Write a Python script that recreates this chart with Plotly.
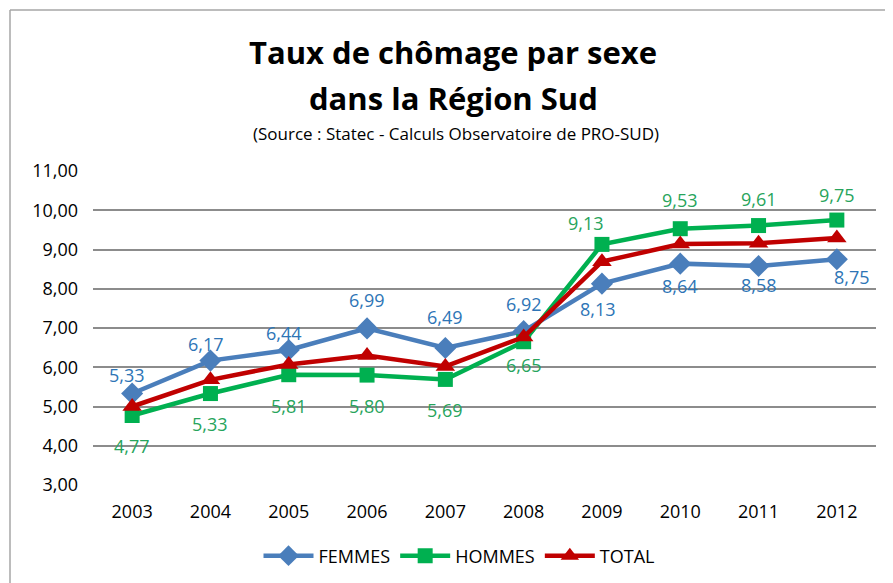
import plotly.graph_objects as go

years = [2003, 2004, 2005, 2006, 2007, 2008, 2009, 2010, 2011, 2012]
femmes = [5.33, 6.17, 6.44, 6.99, 6.49, 6.92, 8.13, 8.64, 8.58, 8.75]
hommes = [4.77, 5.33, 5.81, 5.80, 5.69, 6.65, 9.13, 9.53, 9.61, 9.75]
total = [5.00, 5.68, 6.07, 6.30, 6.02, 6.77, 8.69, 9.14, 9.16, 9.29]
yticks = [3, 4, 5, 6, 7, 8, 9, 10, 11]

def fmt(v):
    return f"{v:.2f}".replace(".", ",")

FONT = "Open Sans"
c_f, c_h, c_t = "#4a7ebb", "#00b050", "#c00000"
t_f, t_h = "#2e75b6", "#27a45c"

# label offsets from their marker, in pixels (positive yshift = up)
shift_f = [(-5, 19), (-4, 17), (-5, 17), (0, 28), (0, 31), (0, 27), (-4, -25), (0, -22), (0, -19), (15, -18)]
shift_h = [(0, -30), (0, -30), (0, -31), (0, -31), (0, -31), (0, -23), (-16, 21), (0, 29), (0, 27), (0, 25)]

fig = go.Figure()
fig.add_trace(go.Scatter(
    x=years, y=femmes, name="FEMMES", mode="lines+markers",
    line=dict(color=c_f, width=4.5), marker=dict(symbol="diamond", size=17, color=c_f)))
fig.add_trace(go.Scatter(
    x=years, y=hommes, name="HOMMES", mode="lines+markers",
    line=dict(color=c_h, width=4.5), marker=dict(symbol="square", size=15, color=c_h)))
fig.add_trace(go.Scatter(
    x=years, y=total, name="TOTAL", mode="lines+markers",
    line=dict(color=c_t, width=4.5), marker=dict(symbol="triangle-up", size=17, color=c_t)))

for yr, v, (dx, dy) in zip(years, femmes, shift_f):
    fig.add_annotation(x=yr, y=v, xref="x", yref="y", text=fmt(v), showarrow=False,
                       xshift=dx, yshift=dy, xanchor="center", yanchor="middle",
                       font=dict(family=FONT, size=18, color=t_f))
for yr, v, (dx, dy) in zip(years, hommes, shift_h):
    fig.add_annotation(x=yr, y=v, xref="x", yref="y", text=fmt(v), showarrow=False,
                       xshift=dx, yshift=dy, xanchor="center", yanchor="middle",
                       font=dict(family=FONT, size=18, color=t_h))

# page has an 8px body margin; express layout in reference pixels and shift
OFF = 8
L, R, T, B = 93 - OFF, 876 - OFF, 171 - OFF, 485 - OFF
W, H = 893 - OFF, 583 - OFF

def py(pix):
    return (B - (pix - OFF)) / (B - T)
def px(pix):
    return ((pix - OFF) - L) / (R - L)

fig.update_layout(
    width=W, height=H,
    paper_bgcolor="white", plot_bgcolor="white",
    margin=dict(l=L, r=W - R, t=T, b=H - B, autoexpand=False),
    font=dict(family=FONT, color="#000000", size=18),
    showlegend=True,
    legend=dict(orientation="h", x=px(459), xanchor="center", y=py(556), yanchor="middle",
                font=dict(family=FONT, size=18, color="#000"), itemwidth=50),
    xaxis=dict(range=[years[0] - 0.5, years[-1] + 0.5], tickvals=years,
               ticktext=[str(y) for y in years],
               showgrid=False, zeroline=False, showline=False, automargin=False,
               ticks="", ticklabelstandoff=14, tickfont=dict(family=FONT, size=18, color="#000")),
    yaxis=dict(range=[3, 11], tickvals=yticks, ticktext=[fmt(v) for v in yticks], automargin=False,
               showgrid=True, gridcolor="#8c8c8c", gridwidth=1.5, zeroline=False,
               showline=False, ticks="", ticklen=0, ticklabelstandoff=14,
               tickfont=dict(family=FONT, size=18, color="#000")),
)

fig.add_annotation(text="<b>Taux de chômage par sexe</b>", x=px(453), y=py(52), xref="paper", yref="paper",
                   xanchor="center", yanchor="middle",
                   showarrow=False, font=dict(family=FONT, size=31, color="#000"))
fig.add_annotation(text="<b>dans la Région Sud</b>", x=px(453), y=py(98), xref="paper", yref="paper",
                   xanchor="center", yanchor="middle",
                   showarrow=False, font=dict(family=FONT, size=31, color="#000"))
fig.add_annotation(text="(Source : Statec - Calculs Observatoire de PRO-SUD)", x=px(456), y=py(133),
                   xref="paper", yref="paper", showarrow=False, xanchor="center", yanchor="middle",
                   font=dict(family=FONT, size=17, color="#000"))
fig.add_shape(type="line", xref="paper", yref="paper", x0=px(10), x1=px(893), y0=py(10), y1=py(10),
              line=dict(color="#a6a6a6", width=1.5))
fig.add_shape(type="line", xref="paper", yref="paper", x0=px(10), x1=px(10), y0=py(10), y1=py(583),
              line=dict(color="#a6a6a6", width=1.5))

fig.write_html("out.html")
